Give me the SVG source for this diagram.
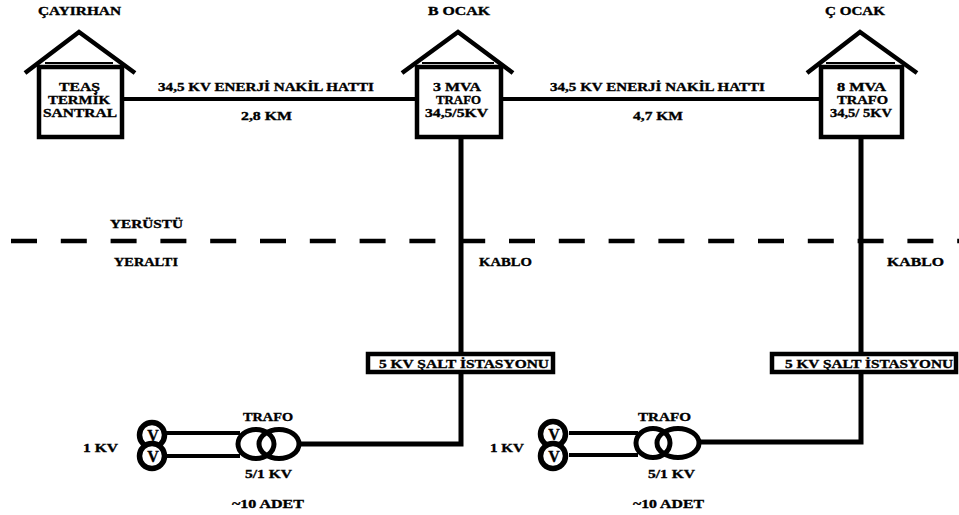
<svg xmlns="http://www.w3.org/2000/svg" width="959" height="515" viewBox="0 0 959 515">
<style>
text{font-family:"Liberation Serif","Times New Roman",serif;font-weight:bold;font-size:12.5px;fill:#000;stroke:#000;stroke-width:.35}
.l{fill:none;stroke:#000;stroke-linejoin:miter}
.w{fill:#fff;stroke:#000;stroke-width:4.5}
.c{text-anchor:middle}
.v{font-size:16px}
</style>
<rect width="959" height="515" fill="#fff"/>
<g id="connectors">
<path class="l" stroke-width="4" d="M122 99H415M502 99H820"/>
<path class="l" stroke-width="5" d="M461 137V444H300M861 137V442H700"/>
<path class="l" stroke-width="4" d="M166 433H240M166 456H240M569 433H638M569 455H638"/>
<path class="l" stroke-width="4.5" stroke-dasharray="26 23.8" d="M11 241H959"/>
</g>
<g id="house-cayirhan">
<path class="l" stroke-width="4.5" d="M25 73L79 32L135 73"/>
<path class="l" stroke-width="2" d="M45 63H113"/>
<rect class="w" x="39" y="67" width="83" height="70"/>
<text x="38" y="15" textLength="83" lengthAdjust="spacingAndGlyphs">ÇAYIRHAN</text>
<text x="59" y="91" textLength="41" lengthAdjust="spacingAndGlyphs">TEAŞ</text>
<text x="48" y="104" textLength="62" lengthAdjust="spacingAndGlyphs">TERMİK</text>
<text x="43" y="117" textLength="74" lengthAdjust="spacingAndGlyphs">SANTRAL</text>
</g>
<g id="house-b">
<path class="l" stroke-width="4.5" d="M402 73L458 32L513 73"/>
<path class="l" stroke-width="2" d="M422 63H494"/>
<rect class="w" x="417" y="67" width="84" height="70"/>
<text x="428" y="15" textLength="62" lengthAdjust="spacingAndGlyphs">B OCAK</text>
<text x="433" y="91" textLength="48" lengthAdjust="spacingAndGlyphs">3 MVA</text>
<text x="436" y="104" textLength="45" lengthAdjust="spacingAndGlyphs">TRAFO</text>
<text x="425" y="117" textLength="63" lengthAdjust="spacingAndGlyphs">34,5/5KV</text>
</g>
<g id="house-c">
<path class="l" stroke-width="4.5" d="M807 73L860 32L917 73"/>
<path class="l" stroke-width="2" d="M826 63H895"/>
<rect class="w" x="821" y="67" width="81" height="70"/>
<text x="825" y="15" textLength="60" lengthAdjust="spacingAndGlyphs">Ç OCAK</text>
<text x="837" y="91" textLength="49" lengthAdjust="spacingAndGlyphs">8 MVA</text>
<text x="837" y="104" textLength="51" lengthAdjust="spacingAndGlyphs">TRAFO</text>
<text x="830" y="117" textLength="62" lengthAdjust="spacingAndGlyphs">34,5/ 5KV</text>
</g>
<g id="line-labels">
<text x="158" y="91" textLength="216" lengthAdjust="spacingAndGlyphs">34,5 KV ENERJİ NAKİL HATTI</text>
<text x="241" y="120" textLength="51" lengthAdjust="spacingAndGlyphs">2,8 KM</text>
<text x="550" y="91" textLength="215" lengthAdjust="spacingAndGlyphs">34,5 KV ENERJİ NAKİL HATTI</text>
<text x="633" y="120" textLength="50" lengthAdjust="spacingAndGlyphs">4,7 KM</text>
<text x="110" y="228" textLength="73" lengthAdjust="spacingAndGlyphs">YERÜSTÜ</text>
<text x="114" y="266" textLength="64" lengthAdjust="spacingAndGlyphs">YERALTI</text>
<text x="479" y="266" textLength="53" lengthAdjust="spacingAndGlyphs">KABLO</text>
<text x="887" y="266" textLength="57" lengthAdjust="spacingAndGlyphs">KABLO</text>
</g>
<g id="switch-b">
<rect class="w" x="368" y="354" width="185" height="18"/>
<text x="379" y="368" textLength="170" lengthAdjust="spacingAndGlyphs">5 KV ŞALT İSTASYONU</text>
</g>
<g id="switch-c">
<rect class="w" x="772" y="354" width="184" height="18"/>
<text x="785" y="368" textLength="168" lengthAdjust="spacingAndGlyphs">5 KV ŞALT İSTASYONU</text>
</g>
<g id="trafo-b">
<ellipse class="l" stroke-width="5" cx="256" cy="444" rx="18" ry="14.5"/>
<ellipse class="l" stroke-width="5" cx="279" cy="444" rx="20" ry="14.5"/>
<text x="243" y="421" textLength="50" lengthAdjust="spacingAndGlyphs">TRAFO</text>
<text x="245" y="478" textLength="47" lengthAdjust="spacingAndGlyphs">5/1 KV</text>
<text x="232" y="508" textLength="72" lengthAdjust="spacingAndGlyphs">~10 ADET</text>
</g>
<g id="trafo-c">
<ellipse class="l" stroke-width="5" cx="653" cy="443" rx="17" ry="14.5"/>
<ellipse class="l" stroke-width="5" cx="678" cy="443" rx="21" ry="14.5"/>
<text x="638" y="421" textLength="53" lengthAdjust="spacingAndGlyphs">TRAFO</text>
<text x="648" y="478" textLength="47" lengthAdjust="spacingAndGlyphs">5/1 KV</text>
<text x="633" y="508" textLength="71" lengthAdjust="spacingAndGlyphs">~10 ADET</text>
</g>
<g id="gen-b">
<circle class="l" fill="#fff" style="fill:#fff" stroke-width="5.5" cx="152" cy="435" r="12.5"/>
<circle class="l" style="fill:#fff" stroke-width="5.5" cx="152" cy="456" r="12.5"/>
<text class="c v" x="153" y="441">V</text>
<text class="c v" x="153" y="462">V</text>
<text x="83" y="452" textLength="35" lengthAdjust="spacingAndGlyphs">1 KV</text>
</g>
<g id="gen-c">
<circle class="l" style="fill:#fff" stroke-width="5.5" cx="553" cy="434" r="12.5"/>
<circle class="l" style="fill:#fff" stroke-width="5.5" cx="553" cy="456" r="12.5"/>
<text class="c v" x="554" y="440">V</text>
<text class="c v" x="554" y="462">V</text>
<text x="490" y="452" textLength="34" lengthAdjust="spacingAndGlyphs">1 KV</text>
</g>
</svg>
